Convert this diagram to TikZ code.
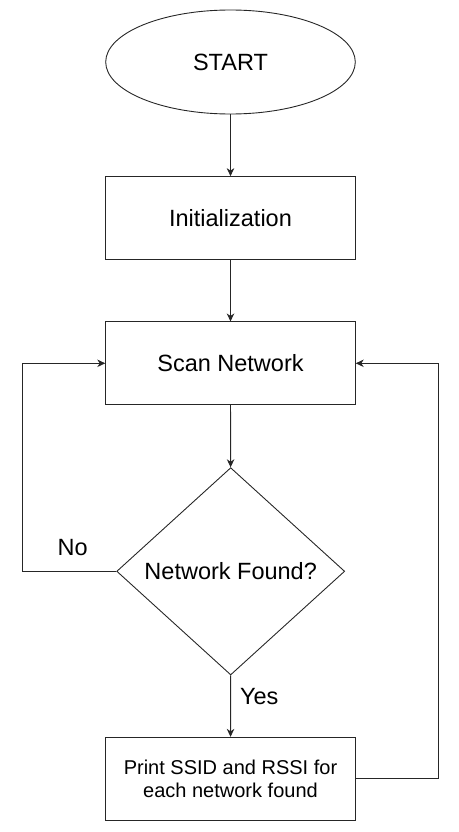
\documentclass[tikz,border=0pt]{standalone}
\usepackage{fontspec}
\setmainfont{Liberation Sans}
\usetikzlibrary{shapes.geometric,arrows.meta}
\begin{document}
\begin{tikzpicture}[x=1pt,y=-1pt,
  base/.style={draw=black!85, line width=0.9pt, inner sep=0pt, align=center,
    font=\fontsize{23.5}{28}\selectfont},
  procbox/.style={base, rectangle, minimum width=249.6pt, minimum height=82.8pt},
  startnode/.style={base, ellipse, minimum width=249.6pt, minimum height=104pt},
  decision/.style={base, diamond, minimum width=228pt, minimum height=207.3pt, aspect=1.1},
  lbl/.style={inner sep=0pt, font=\fontsize{23.5}{28}\selectfont},
  arr/.style={draw=black!85, line width=0.9pt, -{Stealth[length=8pt,width=7.5pt,inset=2.5pt]}}
]
\useasboundingbox (0,0) rectangle (458,832);
\node[startnode] (start) at (230.5,62) {START};
\node[procbox] (init) at (230.5,218) {Initialization};
\node[procbox] (scan) at (230.5,363.3) {Scan Network};
\node[decision] (dec) at (230.7,571.3) {Network Found?};
\node[procbox, font=\fontsize{20}{22.7}\selectfont] (print) at (230.5,778.7) {Print SSID and RSSI for\\each network found};
\coordinate (lc) at (22.7,571.3);
\coordinate (rc) at (438,778.7);
\node[lbl] (no) at (72.7,547.7) {No};
\node[lbl] (yes) at (259.3,696.7) {Yes};
\draw[arr] (start) -- (init);
\draw[arr] (init) -- (scan);
\draw[arr] (scan) -- (dec);
\draw[arr] (dec) -- (print);
\draw[arr] (dec.west) -- (lc) |- (scan.west);
\draw[arr] (print.east) -- (rc) |- (scan.east);
\end{tikzpicture}
\end{document}
